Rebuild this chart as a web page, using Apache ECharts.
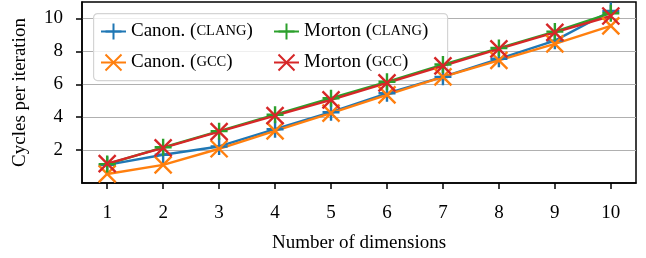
<!DOCTYPE html>
<html>
<head>
    <meta charset="utf-8">
    <title>Cycles per iteration</title>
    <script src="https://cdn.jsdelivr.net/npm/echarts@6/dist/echarts.min.js"></script>
</head>
<body style="margin:0">
    <div id="main" style="width: 646px;height:258px;"></div>
    <script type="text/javascript">
        // data
        var dims = [1, 2, 3, 4, 5, 6, 7, 8, 9, 10];
        var canonClang = [1.1, 1.72, 2.22, 3.27, 4.3, 5.45, 6.45, 7.55, 8.65, 10.45];
        var canonGcc = [0.55, 1.1, 2.08, 3.17, 4.25, 5.35, 6.45, 7.45, 8.45, 9.55];
        var mortonClang = [1.15, 2.17, 3.15, 4.15, 5.15, 6.15, 7.2, 8.2, 9.2, 10.32];
        var mortonGcc = [1.18, 2.14, 3.12, 4.1, 5.05, 6.08, 7.12, 8.15, 9.15, 10.15];
        var yTicks = [2, 4, 6, 8, 10];

        var FONT = 'Liberation Serif';
        var PLUS = 'path://M8,0L8,16M0,8L16,8';
        var CROSS = 'path://M0,0L16,16M16,0L0,16';

        function pairs(ys) {
            return dims.map(function (d, i) { return [d, ys[i]]; });
        }

        function lineSeries(name, ys, color, symbol) {
            return {
                name: name,
                type: 'line',
                data: pairs(ys),
                symbol: symbol,
                symbolSize: 17,
                lineStyle: { color: color, width: 2.4 },
                itemStyle: { color: color, borderColor: color, borderWidth: 2.4 },
                emphasis: { disabled: true },
                clip: false
            };
        }

        // legend text: name in roman, compiler in small caps
        function legendText(name) {
            var m = name.match(/^(.*\()(\w+)(\))$/);
            return '{n|' + m[1] + '}{sc|' + m[2].toUpperCase() + '}{n|' + m[3] + '}';
        }

        function legendCol(left, names) {
            return {
                orient: 'vertical',
                left: left, top: 22,
                padding: 0,
                itemGap: 12,
                itemWidth: 25,
                itemHeight: 20,
                data: names,
                formatter: legendText,
                textStyle: {
                    rich: {
                        n: { fontFamily: FONT, fontSize: 19, color: '#000', lineHeight: 20 },
                        sc: { fontFamily: FONT, fontSize: 14.5, color: '#000', lineHeight: 20 }
                    }
                }
            };
        }

        var myChart = echarts.init(document.getElementById('main'));
        var option = {
            animation: false,
            textStyle: { fontFamily: FONT },
            grid: {
                left: 82, right: 10, top: 2, bottom: 72,
                show: true, borderColor: '#000', borderWidth: 1.5
            },
            graphic: [{
                type: 'rect',
                left: 93, top: 13,
                z: 3,
                shape: { width: 354, height: 67, r: 4 },
                style: { fill: 'rgba(255,255,255,0.8)', stroke: '#d4d4d4', lineWidth: 1.2 }
            }],
            legend: [
                legendCol(100, ['Canon. (clang)', 'Canon. (gcc)']),
                legendCol(273, ['Morton (clang)', 'Morton (gcc)'])
            ],
            xAxis: {
                type: 'value',
                min: 0.55, max: 10.45,
                name: 'Number of dimensions',
                nameLocation: 'middle',
                nameGap: 51,
                nameTextStyle: { fontFamily: FONT, fontSize: 19, color: '#000' },
                axisLine: { lineStyle: { color: '#000', width: 1.5 } },
                axisTick: { customValues: dims, length: 6, lineStyle: { color: '#000', width: 1.5 } },
                axisLabel: { customValues: dims, margin: 21, fontFamily: FONT, fontSize: 19, color: '#000' },
                splitLine: { show: false }
            },
            yAxis: {
                type: 'value',
                min: 0, max: 11, interval: 2,
                name: 'Cycles per iteration',
                nameLocation: 'middle',
                nameGap: 52,
                nameTextStyle: { fontFamily: FONT, fontSize: 19, color: '#000' },
                axisLine: { show: true, lineStyle: { color: '#000', width: 1.5 } },
                axisTick: { show: true, customValues: yTicks, length: 6, lineStyle: { color: '#000', width: 1.5 } },
                axisLabel: { customValues: yTicks, margin: 19, fontFamily: FONT, fontSize: 19, color: '#000' },
                splitLine: { lineStyle: { color: '#b0b0b0', width: 1.2 } }
            },
            series: [
                lineSeries('Canon. (clang)', canonClang, '#1f77b4', PLUS),
                lineSeries('Canon. (gcc)', canonGcc, '#ff7f0e', CROSS),
                lineSeries('Morton (clang)', mortonClang, '#2ca02c', PLUS),
                lineSeries('Morton (gcc)', mortonGcc, '#d62728', CROSS)
            ]
        };
        myChart.setOption(option);
    </script>
</body>
</html>
